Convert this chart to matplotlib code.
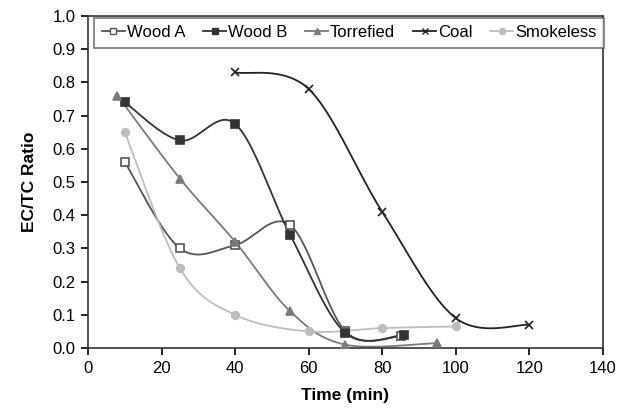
import numpy as np
import matplotlib.pyplot as plt

plt.rcParams['font.family'] = ['Liberation Sans', 'DejaVu Sans']

# data
wood_a_t = [10, 25, 40, 55, 70, 85]
wood_a = [0.56, 0.30, 0.31, 0.37, 0.05, 0.035]
wood_b_t = [10, 25, 40, 55, 70, 86]
wood_b = [0.74, 0.625, 0.675, 0.34, 0.045, 0.04]
torr_t = [8, 25, 40, 55, 70, 95]
torr = [0.76, 0.51, 0.32, 0.11, 0.01, 0.015]
coal_t = [40, 60, 80, 100, 120]
coal = [0.83, 0.78, 0.41, 0.09, 0.07]
smk_t = [10, 25, 40, 60, 80, 100]
smk = [0.65, 0.24, 0.10, 0.05, 0.06, 0.065]


# smoothed line like Excel's (Catmull-Rom style bezier between points)
def smooth(x, y, n=40):
    x = np.asarray(x, float)
    y = np.asarray(y, float)
    px = np.concatenate(([x[0]], x, [x[-1]]))
    py = np.concatenate(([y[0]], y, [y[-1]]))
    xs, ys = [], []
    s = np.linspace(0, 1, n)
    for i in range(1, len(px) - 2):
        p0 = np.array([px[i], py[i]])
        p3 = np.array([px[i + 1], py[i + 1]])
        c1 = p0 + (p3 - np.array([px[i - 1], py[i - 1]])) / 6
        c2 = p3 - (np.array([px[i + 2], py[i + 2]]) - p0) / 6
        b = ((1 - s) ** 3)[:, None] * p0 + (3 * (1 - s) ** 2 * s)[:, None] * c1 \
            + (3 * (1 - s) * s ** 2)[:, None] * c2 + (s ** 3)[:, None] * p3
        xs.append(b[:, 0])
        ys.append(b[:, 1])
    return np.concatenate(xs), np.concatenate(ys)


fig = plt.figure(figsize=(6.31, 4.08), dpi=100)
ax = fig.add_axes([0.1395, 0.147, 0.816, 0.814])

series = [
    ("Wood A", wood_a_t, wood_a, "#555555", "s", "white"),
    ("Wood B", wood_b_t, wood_b, "#333333", "s", "#333333"),
    ("Torrefied", torr_t, torr, "#7a7a7a", "^", "#7a7a7a"),
    ("Coal", coal_t, coal, "#222222", "x", "#222222"),
    ("Smokeless", smk_t, smk, "#bdbdbd", "o", "#bdbdbd"),
]

handles = []
for name, t, v, c, m, fc in series:
    sx, sy = smooth(t, v)
    ax.plot(sx, sy, color=c, lw=1.3, zorder=2)
    ax.plot(t, v, ls="none", marker=m, ms=5.5, color=c, mfc=fc, mec=c, mew=1.2, zorder=3)
    h, = ax.plot([], [], color=c, lw=1.3, marker=m, ms=4.5, mfc=fc, mec=c, mew=1.0)
    h.set_label(name)
    handles.append(h)

ax.set_xlim(0, 140)
ax.set_ylim(0, 1.0)
ax.set_xticks(np.arange(0, 141, 20))
ax.set_yticks(np.arange(0, 1.01, 0.1))
ax.set_yticklabels([f"{v:.1f}" for v in np.arange(0, 1.01, 0.1)])
ax.tick_params(direction="out", length=5, width=1.2, labelsize=12, colors="black", pad=4)
for sp in ax.spines.values():
    sp.set_linewidth(1.2)
    sp.set_color("#333333")

ax.set_xlabel("Time (min)", fontsize=12.5, fontweight="bold", labelpad=9)
ax.set_ylabel("EC/TC Ratio", fontsize=12.5, fontweight="bold", labelpad=11)

leg = ax.legend(handles=handles, loc="upper left", bbox_to_anchor=(0.012, 0.995, 0.99, 0),
                mode="expand", ncol=5, fontsize=12, handlelength=1.4, handletextpad=0.1,
                columnspacing=0.8, frameon=True, fancybox=False, borderpad=0.45,
                borderaxespad=0.0)
leg.get_frame().set_edgecolor("#555555")
leg.get_frame().set_linewidth(1.2)

fig.savefig("out.png", dpi=100)
